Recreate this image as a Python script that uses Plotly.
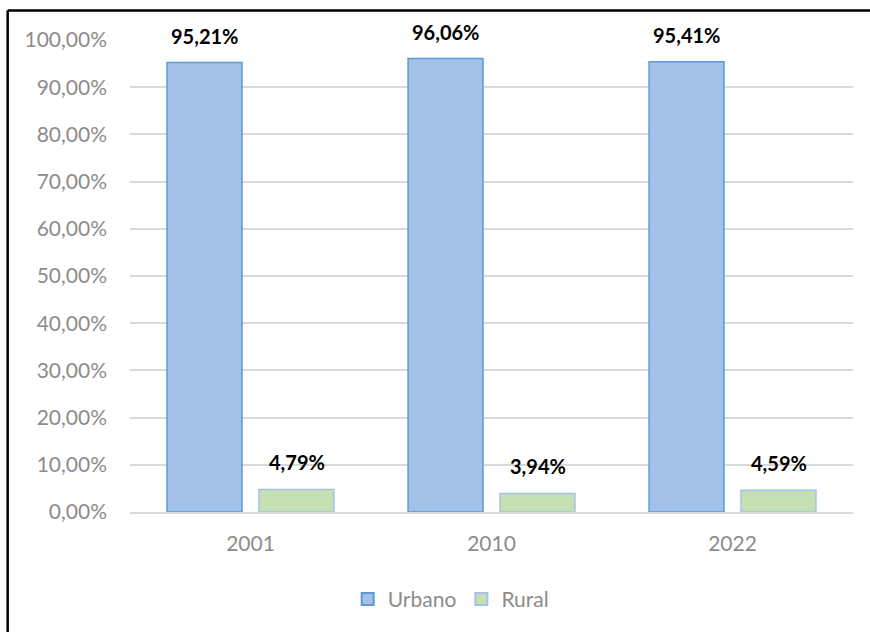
import plotly.graph_objects as go

years = ["2001", "2010", "2022"]
urbano = [95.21, 96.06, 95.41]
rural = [4.79, 3.94, 4.59]
series_names = ["Urbano", "Rural"]
y_ticks = list(range(0, 101, 10))
y_tick_labels = [f"{v},00%" for v in y_ticks]

def fmt(v):
    return f"{v:.2f}".replace(".", ",") + "%"

FONT = "Lato, 'Liberation Sans', Arial, sans-serif"

fig = go.Figure()
fig.add_trace(go.Bar(
    x=years, y=urbano, name=series_names[0],
    marker=dict(color="#a3c1e7", line=dict(color="#5b9bd5", width=1.5)),
))
fig.add_trace(go.Bar(
    x=years, y=rural, name=series_names[1],
    marker=dict(color="#c6e0b4", line=dict(color="#a4c2e6", width=1.5)),
))

# data labels
for vals, shift in ((urbano, -46), (rural, 46)):
    for i, v in enumerate(vals):
        fig.add_annotation(
            x=i, y=v, text=f"<b>{fmt(v)}</b>", showarrow=False,
            xshift=shift, yshift=27, yanchor="middle",
            font=dict(family=FONT, size=20, color="#000000"),
        )

# chart border (left and top visible)
x_left = (7.5 - 130) / 724
y_top = (512 - 10.5) / 472
fig.add_shape(type="line", xref="paper", yref="paper", x0=x_left, x1=x_left,
              y0=-0.5, y1=y_top, line=dict(color="#000000", width=2.5))
fig.add_shape(type="line", xref="paper", yref="paper", x0=x_left, x1=1.2,
              y0=y_top, y1=y_top, line=dict(color="#000000", width=2.5))

fig.update_layout(
    width=870, height=632,
    margin=dict(l=130, r=17, t=40, b=120),
    paper_bgcolor="white", plot_bgcolor="white",
    barmode="group", bargap=0.237, bargroupgap=0.185,
    font=dict(family=FONT, size=21, color="#8c8c8c"),
    showlegend=True,
    legend=dict(orientation="h", x=(348 - 130) / 724, xanchor="left", y=-0.185, yanchor="middle",
                font=dict(family=FONT, size=21, color="#8c8c8c"),
                itemsizing="constant", traceorder="normal"),
    xaxis=dict(type="category", categoryorder="array", categoryarray=years,
               range=[-0.5, len(years) - 0.5], autorange=False,
               showgrid=False, showline=True, linecolor="#d9d9d9",
               linewidth=1.5, ticks="", ticklabelstandoff=12,
               tickfont=dict(size=21, color="#8c8c8c")),
    yaxis=dict(range=[0, 100], autorange=False, tickvals=y_ticks, ticktext=y_tick_labels,
               showgrid=True, gridcolor="#d9d9d9", gridwidth=1.5,
               zeroline=False, showline=False, ticks="",
               ticklabelstandoff=22,
               tickfont=dict(size=21, color="#8c8c8c")),
)

fig.write_html("out.html", config={"displayModeBar": False},
               post_script="document.body.style.margin='0';")
